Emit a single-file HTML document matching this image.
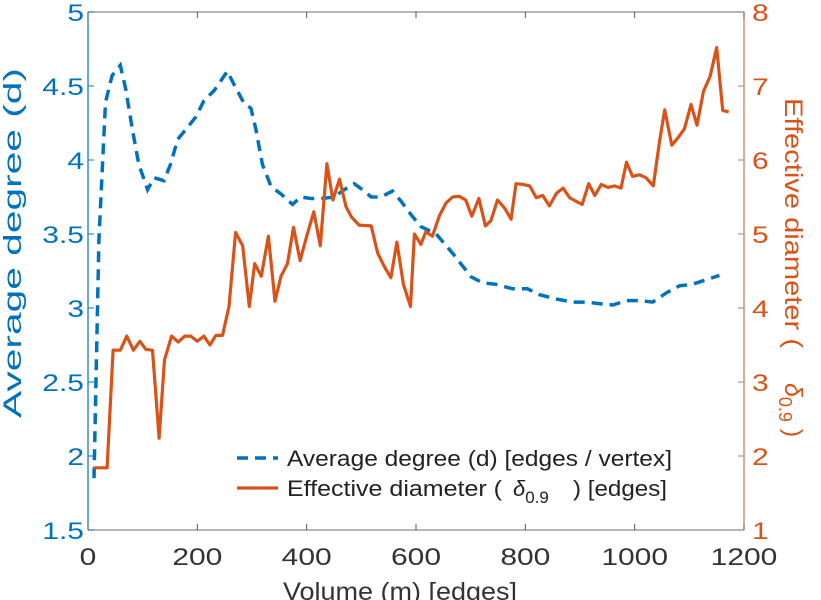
<!DOCTYPE html>
<html><head><meta charset="utf-8"><style>
html,body{margin:0;padding:0;background:#fff;}
svg{display:block;font-family:"Liberation Sans",sans-serif;}
</style></head><body>
<svg id="chart" width="821" height="600" viewBox="0 0 821 600" xmlns="http://www.w3.org/2000/svg"></svg>
<script>
const xTicks = [0, 200, 400, 600, 800, 1000, 1200];
const leftTicks = [1.5, 2, 2.5, 3, 3.5, 4, 4.5, 5];
const leftTickLabels = ["1.5","2","2.5","3","3.5","4","4.5","5"];
const rightTicks = [1, 2, 3, 4, 5, 6, 7, 8];
const rightTickLabels = ["1","2","3","4","5","6","7","8"];

const degX = [11,20,32,44,59,69,81,93,109,121,139,151,164,182,197,212,231,255,267,286,298,307,319,335,353,374,389,408,426,450,469,487,502,518,536,557,573,591,609,637,667,701,722,746,777,804,826,857,887,911,935,960,985,1009,1033,1057,1082,1106,1130,1155];
const degY = [1.85,3.46,4.39,4.57,4.64,4.48,4.21,3.97,3.8,3.88,3.86,3.97,4.14,4.22,4.29,4.4,4.47,4.6,4.51,4.38,4.35,4.21,3.97,3.82,3.77,3.7,3.75,3.74,3.74,3.75,3.8,3.84,3.8,3.75,3.75,3.79,3.72,3.63,3.55,3.5,3.37,3.21,3.17,3.16,3.13,3.13,3.09,3.06,3.04,3.04,3.03,3.02,3.05,3.05,3.04,3.1,3.15,3.16,3.19,3.22];

const diaX = [10,35,46,59,71,83,95,106,118,130,140,153,165,177,188,200,212,223,234,246,258,270,283,295,305,317,330,342,353,365,376,388,400,413,425,437,448,460,472,482,496,518,530,542,554,565,577,590,597,609,618,630,643,655,667,679,691,702,715,727,737,749,762,774,783,796,808,820,832,844,857,869,881,893,904,916,927,939,951,963,975,985,996,1009,1021,1034,1045,1055,1068,1079,1091,1103,1114,1126,1138,1150,1161,1172];
const diaY = [1.84,1.84,3.43,3.43,3.62,3.43,3.55,3.44,3.43,2.24,3.3,3.62,3.54,3.62,3.62,3.55,3.62,3.5,3.63,3.63,4.02,5.02,4.84,4.02,4.6,4.43,4.97,4.09,4.43,4.6,5.09,4.64,4.97,5.3,4.84,5.95,5.46,5.74,5.37,5.23,5.12,5.11,4.74,4.56,4.41,4.89,4.32,4.02,5.0,4.86,5.03,4.97,5.25,5.42,5.5,5.51,5.46,5.24,5.48,5.11,5.18,5.46,5.35,5.2,5.68,5.67,5.65,5.49,5.52,5.38,5.55,5.62,5.49,5.44,5.4,5.68,5.52,5.67,5.63,5.65,5.62,5.97,5.78,5.8,5.76,5.65,6.23,6.68,6.2,6.3,6.42,6.75,6.47,6.93,7.13,7.52,6.67,6.65];

const L=88,R=744,T=12,B=530;
const xs = v => L + (v-0)/(1200-0)*(R-L);
const yl = v => B - (v-1.5)/(5-1.5)*(B-T);
const yr = v => B - (v-1)/(8-1)*(B-T);
const NS="http://www.w3.org/2000/svg";
const svg=document.getElementById('chart');
function mk(tag,attrs,parent){const e=document.createElementNS(NS,tag);for(const k in attrs)e.setAttribute(k,attrs[k]);(parent||svg).appendChild(e);return e;}
function st(parent,x,y,anchor,color,str){return mk('text',{x:0,y:0,'text-anchor':anchor,'font-size':24,fill:color,transform:'translate('+x+','+y+') scale(1.25,1)'},parent);}

const gAx=mk('g',{});


const topBorder=mk('line',{x1:L,y1:T,x2:R,y2:T,stroke:'#8c8c8c','stroke-width':1.2},gAx);


const xa=mk('line',{x1:L,y1:B,x2:R,y2:B,stroke:'#8c8c8c','stroke-width':1.2},gAx);


const la=mk('line',{x1:L,y1:T,x2:L,y2:B,stroke:'#0072BD','stroke-width':1.2},gAx);


const ra=mk('line',{x1:R,y1:T,x2:R,y2:B,stroke:'#C0785A','stroke-width':1.2},gAx);



xTicks.forEach(t=>{
  const x=xs(t);
  mk('line',{x1:x,y1:B,x2:x,y2:B-6,stroke:'#555','stroke-width':1},gAx);
  mk('line',{x1:x,y1:T,x2:x,y2:T+6,stroke:'#555','stroke-width':1},gAx);
  const tx=st(gAx,x,B+35,'middle','#333');
  tx.textContent=t;
  
  
});
leftTicks.forEach((t,i)=>{
  const y=yl(t);
  mk('line',{x1:L,y1:y,x2:L+6,y2:y,stroke:'#0072BD','stroke-width':1},gAx);
  const tx=st(gAx,L-4,y+9,'end','#0072BD');
  tx.textContent=leftTickLabels[i];
  
  
});
rightTicks.forEach((t,i)=>{
  const y=yr(t);
  mk('line',{x1:R,y1:y,x2:R-6,y2:y,stroke:'#C0785A','stroke-width':1},gAx);
  const tx=st(gAx,R+8,y+9,'start','#D95319');
  tx.textContent=rightTickLabels[i];
  
  
});

const pd=degX.map((v,i)=>(i?'L':'M')+xs(v).toFixed(1)+','+yl(degY[i]).toFixed(1)).join(' ');
const p1=mk('path',{d:pd,fill:'none',stroke:'#0072BD','stroke-width':3.5,'stroke-dasharray':'11,7'});


const pr=diaX.map((v,i)=>(i?'L':'M')+xs(v).toFixed(1)+','+yr(diaY[i]).toFixed(1)).join(' ');
const p2=mk('path',{d:pr,fill:'none',stroke:'#D95319','stroke-width':3.2,'stroke-linejoin':'round'});



const lt=mk('text',{x:0,y:0,'text-anchor':'middle','font-size':25,fill:'#0072BD',textLength:350,lengthAdjust:'spacingAndGlyphs',transform:'translate(21,243) rotate(-90)'});
lt.textContent='Average degree (d)';


const rt=mk('text',{x:0,y:0,'font-size':25,fill:'#D95319',transform:'translate(785,98) rotate(90)'});
rt.innerHTML='<tspan textLength="250" lengthAdjust="spacingAndGlyphs">Effective diameter (</tspan><tspan x="285" font-style="italic">δ</tspan><tspan font-size="18" dy="6">0.9</tspan><tspan dy="-6"> )</tspan>';


const xt=mk('text',{x:400,y:600,'text-anchor':'middle','font-size':25,fill:'#333',textLength:234,lengthAdjust:'spacingAndGlyphs'});
xt.textContent='Volume (m) [edges]';



const lg=mk('g',{});


const e1=mk('g',{},lg);


mk('line',{x1:237,y1:458,x2:278,y2:458,stroke:'#0072BD','stroke-width':3.5,'stroke-dasharray':'11,7'},e1);
const t1=mk('text',{x:287,y:466,'font-size':22,fill:'#222',textLength:385,lengthAdjust:'spacingAndGlyphs'},e1);
t1.textContent='Average degree (d) [edges / vertex]';
const e2=mk('g',{},lg);


mk('line',{x1:237,y1:488,x2:278,y2:488,stroke:'#D95319','stroke-width':3.2},e2);
const t2=mk('text',{x:287,y:496,'font-size':22,fill:'#222'},e2);
t2.innerHTML='<tspan textLength="215" lengthAdjust="spacingAndGlyphs">Effective diameter (</tspan><tspan x="513" font-style="italic">δ</tspan><tspan font-size="17" dy="7">0.9</tspan><tspan x="573" dy="-7" textLength="94" lengthAdjust="spacingAndGlyphs">) [edges]</tspan>';
</script>
</body></html>
